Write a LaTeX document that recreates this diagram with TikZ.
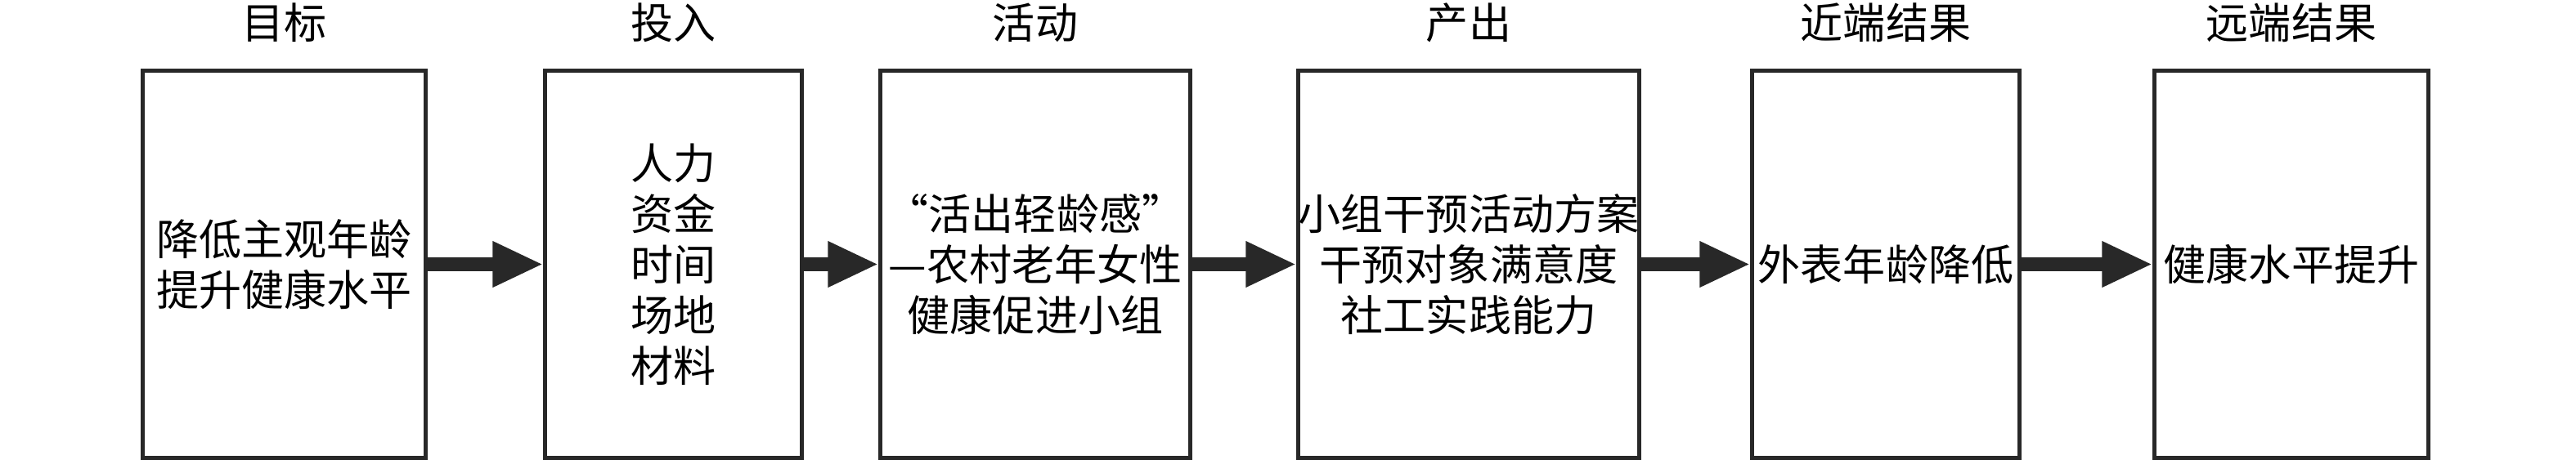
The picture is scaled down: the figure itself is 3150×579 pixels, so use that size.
\documentclass[tikz,border=0pt]{standalone}
\usepackage{fontspec}
\setmainfont{Noto Sans CJK SC}
\usetikzlibrary{arrows.meta}
\definecolor{ink}{RGB}{40,40,40}
\begin{document}
\begin{tikzpicture}[x=0.01cm,y=-0.01cm,
  box/.style={draw=ink, line width=0.05cm, rectangle, minimum height=4.73cm, inner sep=0pt, align=center, font=\fontsize{14.8pt}{17.6pt}\selectfont, text=black},
  title/.style={inner sep=0pt, font=\fontsize{14.8pt}{17.6pt}\selectfont, text=black},
  flow/.style={draw=ink, line width=0.16cm, -{Triangle[length=0.62cm, width=0.52cm]}}
]
\useasboundingbox (0,0) rectangle (3150,579);
\node[box, minimum width=3.45cm] (b1) at (347.5,323.5) {降低主观年龄\\提升健康水平};
\node[box, minimum width=3.13cm] (b2) at (823.5,323.5) {人力\\资金\\时间\\场地\\材料};
\node[box, minimum width=3.78cm] (b3) at (1266,323.5) {“活出轻龄感”\\—农村老年女性\\健康促进小组};
\node[box, minimum width=4.14cm] (b4) at (1796,323.5) {小组干预活动方案\\干预对象满意度\\社工实践能力};
\node[box, minimum width=3.26cm] (b5) at (2306,323.5) {外表年龄降低};
\node[box, minimum width=3.34cm] (b6) at (2802,323.5) {健康水平提升};
\node[title] (t1) at (347.5,28) {目标};
\node[title] (t2) at (823.5,28) {投入};
\node[title] (t3) at (1266,28) {活动};
\node[title] (t4) at (1796,28) {产出};
\node[title] (t5) at (2306,28) {近端结果};
\node[title] (t6) at (2802,28) {远端结果};
\draw[flow] (b1.east) -- (b2.west);
\draw[flow] (b2.east) -- (b3.west);
\draw[flow] (b3.east) -- (b4.west);
\draw[flow] (b4.east) -- (b5.west);
\draw[flow] (b5.east) -- (b6.west);
\end{tikzpicture}
\end{document}
